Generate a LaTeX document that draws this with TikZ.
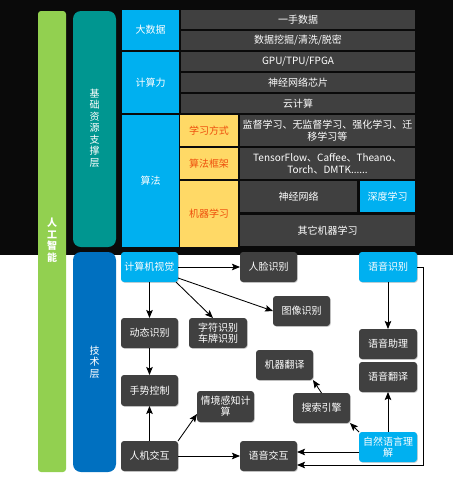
\documentclass[tikz,border=0pt]{standalone}
\usepackage{fontspec}
\setmainfont{Noto Sans CJK SC}
\usetikzlibrary{arrows.meta,shadows}
\definecolor{bgblack}{HTML}{0A0A0A}
\definecolor{aigreen}{HTML}{92D050}
\definecolor{teal2}{HTML}{009690}
\definecolor{techblue}{HTML}{0070C0}
\definecolor{cyanc}{HTML}{00B0F0}
\definecolor{yel}{HTML}{FFD966}
\definecolor{dgray}{HTML}{404040}
\definecolor{orng}{HTML}{EE4E0C}
\newcommand{\noskip}{\lineskiplimit=-20pt\relax}
\newcommand{\bx}[7]{\node[#6, minimum width={#4-#2}, minimum height={#5-#3}] (#1) at ({(#2+#4)/2},{(#3+#5)/2}) {#7};}
\begin{document}
\begin{tikzpicture}[x=1pt,y=-1pt,
  cell/.style={fill=dgray, text=white, inner sep=0pt, outer sep=0pt, align=center, font=\fontsize{10}{12}\selectfont\noskip},
  cyancell/.style={cell, fill=cyanc},
  ycell/.style={cell, fill=yel, text=orng},
  rnode/.style={cell, fill=dgray, rounded corners=3pt, drop shadow={shadow xshift=0.8pt, shadow yshift=-0.8pt, opacity=0.35, fill=gray}},
  cnode/.style={rnode, fill=cyanc},
  vbar/.style={inner sep=0pt, outer sep=0pt},
  vtext/.style={text=white, align=center, inner sep=0pt, font=\fontsize{10}{11.5}\selectfont\noskip},
  arr/.style={draw=black, line width=0.85pt, -{Stealth[length=8pt,width=6.5pt,inset=1.5pt]}}
]
\useasboundingbox (0,0) rectangle (453,483);
\fill[white] (0,0) rectangle (453,483);
\fill[bgblack] (0,0) rectangle (453,255);

% vertical bars
\bx{ai}{38}{11}{66}{472}{vbar, fill=aigreen, rounded corners=3pt}{}
\node[vtext, font=\fontsize{10}{11.5}\selectfont\noskip\bfseries] (aitext) at (52,240) {人\\工\\智\\能};
\bx{jc}{73}{11}{116}{247}{vbar, fill=teal2, rounded corners=8pt}{}
\node[vtext] (jctext) at (94.5,128) {基\\础\\资\\源\\支\\撑\\层};
\bx{js}{73}{252}{116}{472}{vbar, fill=techblue, rounded corners=8pt}{}
\node[vtext] (jstext) at (94.5,362) {技\\术\\层};

% top grid
\bx{dsj}{122}{10}{179}{50}{cyancell}{大数据}
\bx{jsl}{122}{52}{179}{113}{cyancell}{计算力}
\bx{sf}{122}{115}{179}{247}{cyancell}{算法}
\bx{ysj}{181}{10}{415}{29}{cell}{一手数据}
\bx{wj}{181}{31}{415}{50}{cell}{数据挖掘/清洗/脱密}
\bx{gpu}{181}{52}{415}{71}{cell}{GPU/TPU/FPGA}
\bx{xp}{181}{73}{415}{92}{cell}{神经网络芯片}
\bx{yjs}{181}{94}{415}{113}{cell}{云计算}
\bx{xxfs}{180}{115}{238}{146}{ycell}{学习方式}
\bx{sfkj}{180}{148}{238}{179}{ycell}{算法框架}
\bx{jqxx}{180}{181}{238}{247}{ycell}{机器学习}
\bx{jd}{240}{115}{415}{146}{cell}{监督学习、无监督学习、强化学习、迁\\移学习等}
\bx{tf}{240}{148}{415}{179}{cell}{TensorFlow、Caffee、Theano、\\Torch、DMTK......}
\bx{sjwl}{240}{181}{357}{212}{cell}{神经网络}
\bx{sdxx}{360}{181}{415}{212}{cyancell}{深度学习}
\bx{qt}{240}{215}{415}{246}{cell}{其它机器学习}

% bottom nodes
\bx{jsj}{121}{252}{178}{282}{cnode}{计算机视觉}
\bx{rl}{240}{252}{297}{282}{rnode}{人脸识别}
\bx{tx}{273}{296}{330}{326}{rnode}{图像识别}
\bx{dt}{121}{318}{178}{348}{rnode}{动态识别}
\bx{zf}{189}{318}{247}{348}{rnode}{字符识别\\[-1pt]车牌识别}
\bx{ss}{121}{375}{178}{406}{rnode}{手势控制}
\bx{qj}{197}{391}{254}{422}{rnode}{情境感知计\\[-1pt]算}
\bx{rj}{121}{441}{178}{471}{rnode}{人机交互}
\bx{yyjh}{240}{441}{297}{471}{rnode}{语音交互}
\bx{jqfy}{256}{350}{313}{380}{rnode}{机器翻译}
\bx{ssyq}{293}{393}{350}{423}{rnode}{搜索引擎}
\bx{yysb}{359}{252}{417}{282}{cnode}{语音识别}
\bx{yyzl}{359}{329}{417}{359}{rnode}{语音助理}
\bx{yyfy}{359}{362}{417}{392}{rnode}{语音翻译}
\bx{zrr}{359}{432}{417}{462}{cnode}{自然语言理\\[-1pt]解}

% connectors
\draw[arr] (jsj) -- (rl);
\draw[arr] ([yshift=4pt]jsj.south east) -- (tx.west);
\draw[arr] ([xshift=-2pt]jsj.south east) -- ([xshift=-5pt]zf.north);
\draw[arr] (jsj) -- (dt);
\draw[arr] (dt) -- (ss);
\draw[arr] (rj) -- (ss);
\draw[arr] (rj.north east) -- ([yshift=8pt]qj.south west);
\draw[arr] (rj) -- (yyjh);
\draw[arr] (yysb) -- (yyzl);
\draw[arr] (zrr) -- (yyfy);
\draw[arr] (zrr.north west) -- (ssyq.south east);
\draw[arr] (ssyq.north) -- (jqfy.south east);
\coordinate (p1) at (0,452);
\draw[arr] (zrr.west |- p1) -- (yyjh.east |- p1);
\coordinate (c1) at (423,267);
\coordinate (c2) at (423,465);
\draw[arr] (yysb.east) -- (c1) -- (c2) -- (yyjh.east |- c2);
\end{tikzpicture}
\end{document}
